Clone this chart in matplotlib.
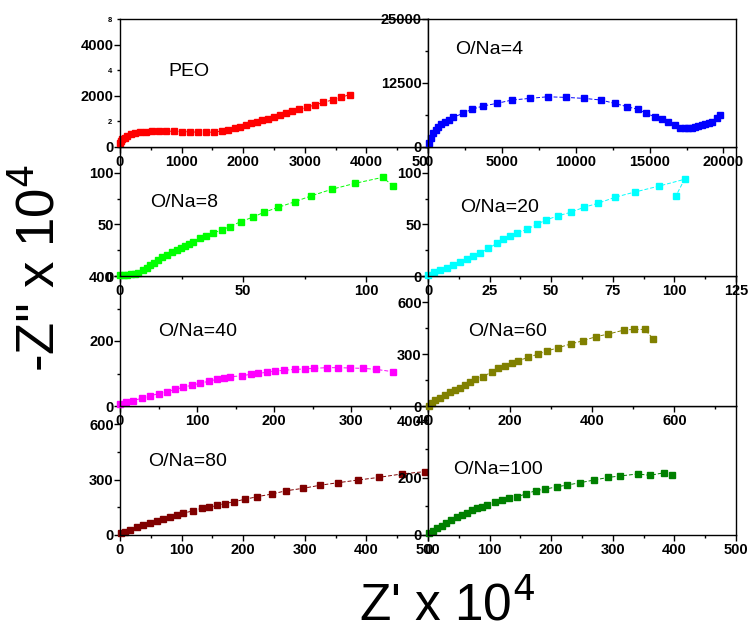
import matplotlib
matplotlib.use('Agg')
import matplotlib.pyplot as plt
from matplotlib.ticker import MultipleLocator

plt.rcParams['font.family'] = ['Liberation Sans', 'DejaVu Sans']

# ---- data (Z' , -Z'') ----
peo_x = [0, 15, 40, 75, 120, 180, 250, 330, 420, 520, 630, 750, 880, 1010, 1140, 1270, 1400,
         1530, 1650, 1760, 1860, 1950, 2040, 2130, 2220, 2310, 2400, 2500, 2600, 2700, 2800,
         2910, 3030, 3160, 3300, 3450, 3590, 3730]
peo_y = [150, 230, 300, 370, 430, 490, 530, 570, 600, 615, 620, 620, 615, 605, 590, 580, 575,
         585, 620, 680, 740, 800, 860, 920, 980, 1040, 1110, 1180, 1250, 1320, 1390,
         1470, 1550, 1640, 1740, 1840, 1940, 2050]

na4_x = [90, 200, 360, 520, 700, 900, 1130, 1400, 1720, 2350, 2960, 3710, 4660, 5680, 6880,
         8100, 9340, 10590, 11720, 12630, 13490, 14210, 14780, 15340, 15820, 16270, 16720,
         17060, 17400, 17630, 17860, 18090, 18310, 18540, 18770, 19000, 19220, 19560, 19790]
na4_y = [720, 1700, 2670, 3350, 3960, 4450, 4940, 5350, 5790, 6570, 7350, 8000, 8520, 9170, 9490,
         9810, 9690, 9490, 9170, 8520, 7870, 7350, 6570, 5920, 5460, 4940, 4290,
         3770, 3640, 3640, 3770, 3900, 4100, 4290, 4490, 4700, 4940, 5590, 6240]

na8_x = [0, 1.5, 3, 4.5, 6, 7.5, 9.5, 11, 12.2, 14, 15.6, 17.2, 18.9, 21, 23, 24.7, 26.4, 28,
         29.8, 32.5, 34.9, 37.6, 41.2, 44.6, 49, 53.8, 58.4, 64.3, 71, 77.4, 85.9, 95.4,
         106.6, 110.9]
na8_y = [1, 1, 1.3, 1.7, 2.2, 3, 5.8, 8, 10.7, 13, 15.5, 18, 20.3, 23, 25.2, 27.1, 29.1, 31.2,
         33.3, 36.5, 38.8, 41.4, 44.6, 47.8, 52.7, 56.9, 61.7, 66.6, 72, 77.5, 84, 89.8,
         95.6, 87.2]

na20_x = [0.1, 2.5, 4.9, 7.6, 10.3, 13, 15.7, 18.4, 21.1, 24.5, 27.9, 30.6, 33.3, 36.3, 40.1,
          44.1, 47.9, 52.9, 57.9, 63.3, 69.1, 75.9, 84, 93.9, 104.1, 100.6]
na20_y = [1, 3.4, 5.8, 8.2, 10.7, 13.4, 16.2, 19.1, 22, 26.8, 31.6, 35.5, 38.8, 42, 45.2,
          50, 54.3, 58.4, 61.7, 66.6, 70.5, 76.3, 81.4, 87.2, 93.7, 77.5]

na40_x = [0, 8, 17.3, 28, 39, 50, 60.6, 71, 82.2, 93, 104, 115, 125.6, 135, 143, 158, 169.7,
          179.7, 190.5, 201, 212.9, 227, 240, 251.7, 268.4, 283.5, 298.7, 315, 332.5, 354]
na40_y = [6, 11, 16.3, 24, 31, 38, 44, 51, 57.5, 64, 70, 76, 82, 86, 90, 93, 97.5,
          100.5, 103.6, 107.7, 109.7, 112.8, 113.8, 115.9, 117.9, 117.9, 116.9, 115.9, 112.8, 105.6]

na60_x = [3, 10, 17, 29, 41, 53, 66, 78, 90, 102, 114, 135, 155, 171, 187.5, 204, 220, 244,
          269, 289, 317, 347.5, 378, 409, 439, 477, 502, 528, 549]
na60_y = [0, 18, 35, 49, 63, 78, 92, 106, 121, 138, 154, 169, 198, 217, 231, 246, 261, 281,
          300, 317, 336, 358, 377, 400, 415, 438, 442, 442, 385]

na80_x = [1, 8, 16, 27, 38, 49, 60, 70, 81, 92, 103, 119, 132.6, 145, 157, 170, 185.6, 203,
          223, 246, 269.5, 296.6, 324.7, 354.4, 385.8, 421, 457, 495]
na80_y = [9, 18, 27, 41, 54, 65, 76, 86, 96, 107, 118, 132, 145, 150, 161, 170, 181, 194,
          208, 222, 240, 253, 270, 284, 298, 313, 331, 344]

na100_x = [2, 8, 14, 22, 30, 38, 47, 55, 63, 71, 79, 87, 95, 109, 120, 132, 145, 159, 175,
           190, 209, 225, 246, 270, 293, 312, 341, 360, 383, 396]
na100_y = [6, 15, 23, 33, 43, 53, 62, 70, 78, 86, 93, 99, 105, 116, 122, 128, 134, 143, 155,
           160, 168, 174, 182, 192, 201, 206, 213, 208, 217, 209]

labels = ['PEO', 'O/Na=4', 'O/Na=8', 'O/Na=20', 'O/Na=40', 'O/Na=60', 'O/Na=80', 'O/Na=100']
colors = ['#ff0000', '#0000ff', '#00ff00', '#00ffff', '#ff00ff', '#808000', '#800000', '#008000']

W, H = 753, 639
fig = plt.figure(figsize=(W / 100, H / 100), dpi=100)


def rect(l, t, r, b):
    return [l / W, 1 - b / H, (r - l) / W, (b - t) / H]


cols = [120, 428, 736]
rows = [19, 147, 276, 406, 535]

# (x, y, xlim, ylim, x major, y major, col, row, text pos)
panels = [
    (peo_x, peo_y, 5000, 5000, 1000, 2000, 0, 0, (168, 72)),
    (na4_x, na4_y, 20850, 25000, 5000, 12500, 1, 0, (455, 50)),
    (na8_x, na8_y, 125, 125, 50, 50, 0, 1, (150, 203)),
    (na20_x, na20_y, 125, 125, 25, 50, 1, 1, (460, 207)),
    (na40_x, na40_y, 400, 400, 100, 200, 0, 2, (158, 332)),
    (na60_x, na60_y, 750, 750, 200, 300, 1, 2, (468, 331)),
    (na80_x, na80_y, 500, 700, 100, 300, 0, 3, (148, 461)),
    (na100_x, na100_y, 500, 450, 100, 200, 1, 3, (453, 469)),
]

# Origin-like layering: left column bottom->top, then right column bottom->top
order = [6, 4, 2, 0, 7, 5, 3, 1]
for i in order:
    x, y, xmax, ymax, xmaj, ymaj, c, r, tpos = panels[i]
    ax = fig.add_axes(rect(cols[c], rows[r], cols[c + 1], rows[r + 1]))
    ax.set_facecolor('white')
    ax.plot(x, y, ls=(0, (4, 2)), lw=0.7, color=colors[i], marker='s', ms=4.2,
            mec=colors[i], mfc=colors[i], clip_on=False)
    ax.set_xlim(0, xmax)
    ax.set_ylim(0, ymax)
    ax.xaxis.set_major_locator(MultipleLocator(xmaj))
    ax.xaxis.set_minor_locator(MultipleLocator(xmaj / 2))
    ax.yaxis.set_major_locator(MultipleLocator(ymaj))
    ax.yaxis.set_minor_locator(MultipleLocator(ymaj / 2))
    ax.tick_params(which='major', direction='out', length=4, width=1, pad=1.5,
                   labelsize=10.5, top=False, right=False)
    ax.tick_params(which='minor', direction='out', length=2.5, width=1, top=False, right=False)
    ax.tick_params(axis='y', which='major', pad=0.5)
    for lab in ax.get_xticklabels() + ax.get_yticklabels():
        lab.set_fontweight('bold')
    for sp in ax.spines.values():
        sp.set_linewidth(1)
    if i == 0:
        # stray small labels on the PEO axis
        ax.set_yticks([1000, 3000, 5000], ['2', '4', '8'], minor=True)
        for lab in ax.get_yticklabels(minor=True):
            lab.set_fontsize(5.5)
            lab.set_fontweight('bold')
    fig.text(tpos[0] / W, 1 - tpos[1] / H, labels[i], fontsize=14, ha='left', va='center')

fig.text(40 / W, 1 - 268 / H, "-Z'' x 10$^4$", rotation=90, fontsize=38,
         ha='center', va='center')
fig.text(447 / W, 1 - 606 / H, "Z' x 10$^4$", fontsize=37, ha='center', va='center')

fig.savefig('out.png', dpi=100)
